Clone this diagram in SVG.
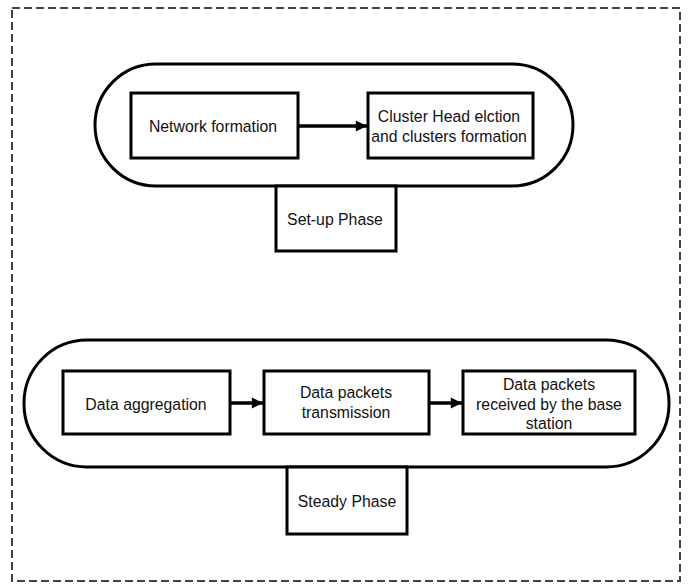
<svg xmlns="http://www.w3.org/2000/svg" width="694" height="584" viewBox="0 0 694 584">
<defs>
<style>
.pill{fill:none;stroke:#000;stroke-width:3}
.box{fill:#fff;stroke:#000;stroke-width:3}
.t{font-family:"Liberation Sans",Arial,sans-serif;font-size:17px;fill:#111;text-anchor:middle}
.conn{stroke:#000;stroke-width:3.5;fill:none}
.border{fill:none;stroke:#444;stroke-width:2;stroke-dasharray:8 4}
</style>
<marker id="arr" viewBox="0 0 10 10" refX="10" refY="5" markerWidth="3.4" markerHeight="3.2" orient="auto" markerUnits="strokeWidth">
<path d="M0,0 L10,5 L0,10 z" fill="#000"/>
</marker>
</defs>
<rect width="694" height="584" fill="#fff"/>
<rect class="border" x="12" y="8" width="668" height="573"/>
<g id="setup-pill"><rect class="pill" x="95" y="64" width="478" height="122" rx="61" ry="61"/></g>
<g id="steady-pill"><rect class="pill" x="24" y="340" width="645" height="127" rx="63" ry="63"/></g>
<g id="network-formation"><rect class="box" x="131" y="93" width="167" height="65"/><g transform="translate(213,0) scale(0.93,1) translate(-213,0)"><text class="t" x="213" y="132">Network formation</text></g></g>
<g id="cluster-head"><rect class="box" x="368" y="93" width="165" height="65"/><g transform="translate(449,0) scale(0.93,1) translate(-449,0)"><text class="t" x="449" y="122">Cluster Head elction</text><text class="t" x="449" y="142">and clusters formation</text></g></g>
<g id="setup-phase"><rect class="box" x="276" y="186" width="120" height="65"/><g transform="translate(335,0) scale(0.93,1) translate(-335,0)"><text class="t" x="335" y="225">Set-up Phase</text></g></g>
<g id="data-aggregation"><rect class="box" x="63" y="371" width="167" height="63"/><g transform="translate(146,0) scale(0.93,1) translate(-146,0)"><text class="t" x="146" y="410">Data aggregation</text></g></g>
<g id="data-transmission"><rect class="box" x="264" y="371" width="165" height="63"/><g transform="translate(346,0) scale(0.93,1) translate(-346,0)"><text class="t" x="346" y="398">Data packets</text><text class="t" x="346" y="418">transmission</text></g></g>
<g id="data-received"><rect class="box" x="463" y="371" width="172" height="63"/><g transform="translate(549,0) scale(0.93,1) translate(-549,0)"><text class="t" x="549" y="390">Data packets</text><text class="t" x="549" y="410">received by the base</text><text class="t" x="549" y="429">station</text></g></g>
<g id="steady-phase"><rect class="box" x="287" y="467" width="120" height="67"/><g transform="translate(347,0) scale(0.93,1) translate(-347,0)"><text class="t" x="347" y="507">Steady Phase</text></g></g>
<g id="connectors">
<line class="conn" x1="298" y1="126" x2="367" y2="126" marker-end="url(#arr)"/>
<line class="conn" x1="230" y1="403" x2="263" y2="403" marker-end="url(#arr)"/>
<line class="conn" x1="429" y1="403" x2="462" y2="403" marker-end="url(#arr)"/>
</g>
</svg>
